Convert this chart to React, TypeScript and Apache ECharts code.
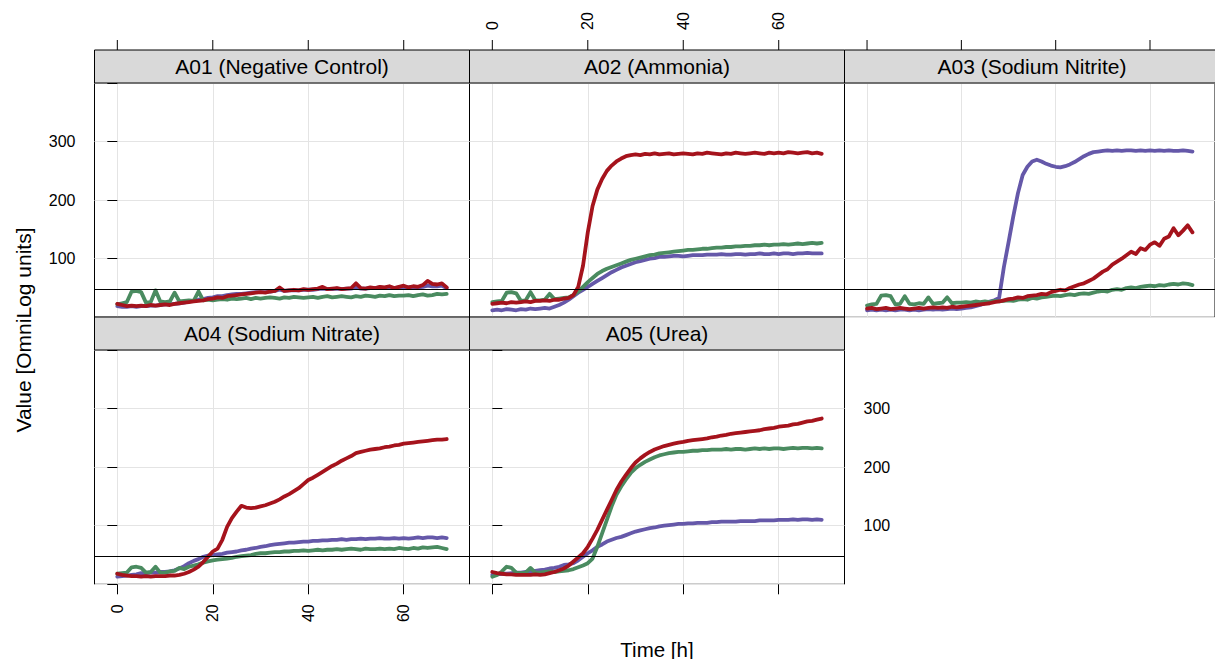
import React, { useEffect, useRef } from "react";
import * as echarts from "echarts";

// ---------- data ----------
const HOURS = [
  0, 1, 2, 3, 4, 5, 6, 7, 8, 9, 10, 11, 12, 13, 14, 15, 16, 17, 18, 19,
  20, 21, 22, 23, 24, 25, 26, 27, 28, 29, 30, 31, 32, 33, 34, 35, 36, 37, 38, 39,
  40, 41, 42, 43, 44, 45, 46, 47, 48, 49, 50, 51, 52, 53, 54, 55, 56, 57, 58, 59,
  60, 61, 62, 63, 64, 65, 66, 67, 68, 69,
];
const X_TICKS = [0, 20, 40, 60];
const Y_LABELS = [100, 200, 300];
const THRESHOLD = 48;
const PANEL_TITLES = [
  "A01 (Negative Control)",
  "A02 (Ammonia)",
  "A03 (Sodium Nitrite)",
  "A04 (Sodium Nitrate)",
  "A05 (Urea)",
];
const SERIES_COLORS = ["#6558A9", "#4A8B60", "#A5131C"]; // purple, green, red

// A01 (Negative Control)
const A01_PURPLE = [
  19, 18, 18, 19, 18, 19, 19, 20, 20, 21,
  22, 22, 23, 24, 25, 27, 28, 30, 31, 33,
  34, 36, 36, 38, 39, 40, 40, 41, 42, 43,
  43, 43, 44, 45, 47, 45, 46, 46, 46, 47,
  47, 47, 48, 49, 48, 48, 49, 48, 49, 49,
  51, 49, 49, 50, 50, 51, 50, 51, 50, 51,
  52, 51, 52, 51, 52, 54, 53, 53, 54, 50,
];
const A01_GREEN = [
  22, 24, 26, 44, 45, 43, 25, 26, 46, 27,
  26, 27, 42, 27, 28, 29, 28, 44, 29, 30,
  29, 30, 31, 30, 32, 31, 32, 33, 31, 33,
  32, 33, 34, 33, 32, 34, 33, 35, 34, 33,
  34, 35, 33, 35, 36, 34, 35, 36, 35, 34,
  36, 35, 37, 36, 35, 37, 36, 38, 36, 37,
  37, 38, 36, 38, 39, 37, 38, 40, 39, 40,
];
const A01_RED = [
  23, 21, 19, 20, 19, 20, 19, 21, 20, 21,
  22, 21, 23, 24, 25, 26, 27, 28, 29, 31,
  32, 34, 33, 36, 37, 38, 39, 40, 41, 42,
  43, 42, 44, 45, 51, 45, 46, 47, 46, 48,
  47, 48, 49, 52, 48, 49, 50, 48, 49, 50,
  58, 50, 49, 51, 50, 52, 51, 53, 50, 52,
  54, 51, 53, 52, 55, 62, 57, 56, 58, 51,
];

// A02 (Ammonia)
const A02_PURPLE = [
  12, 13, 12, 14, 13, 12, 14, 13, 15, 14,
  15, 16, 15, 18, 21, 25, 30, 36, 42, 47,
  52, 57, 62, 67, 72, 77, 81, 85, 88, 91,
  94, 96, 98, 100, 101, 103, 103, 104, 105, 105,
  104, 105, 106, 106, 106, 107, 107, 107, 108, 107,
  107, 108, 108, 107, 108, 108, 109, 108, 108, 109,
  108, 109, 109, 108, 109, 109, 110, 109, 109, 109,
];
const A02_GREEN = [
  26, 27, 28, 42, 43, 41, 28, 29, 43, 29,
  29, 30, 40, 31, 32, 33, 34, 38, 44, 52,
  60, 67, 74, 79, 83, 86, 89, 92, 95, 98,
  100, 102, 104, 106, 107, 109, 110, 111, 112, 113,
  114, 115, 115, 116, 117, 117, 118, 119, 119, 120,
  120, 121, 121, 122, 122, 123, 123, 124, 123, 124,
  124, 125, 124, 125, 126, 125, 126, 127, 126, 127,
];
const A02_RED = [
  23, 24, 25, 24, 26, 25, 26, 27, 26, 28,
  28, 29, 28, 30, 30, 32, 33, 38, 52, 88,
  145, 190, 218, 236, 250, 259, 266, 271, 275, 277,
  278, 277, 279, 278, 280, 278, 279, 280, 278, 279,
  280, 279, 278, 280, 279, 281, 280, 279, 278, 280,
  279, 281, 280, 279, 280, 281, 280, 279, 281, 280,
  281, 280, 282, 281, 280, 281, 282, 280, 281, 279,
];

// A03 (Sodium Nitrite)
const A03_PURPLE = [
  12, 13, 12, 13, 12, 13, 12, 13, 13, 12,
  13, 12, 13, 14, 13, 14, 13, 14, 15, 14,
  15, 16, 17, 19, 21, 24, 27, 29, 33, 85,
  128, 172, 212, 243, 257, 266, 269, 266, 262, 259,
  257, 256, 258, 261, 265, 270, 275, 279, 282, 283,
  284, 285, 284, 285, 284, 285, 285, 284, 285, 284,
  285, 284, 285, 284, 285, 284, 284, 285, 284, 283,
];
const A03_GREEN = [
  20, 22, 23, 37, 38, 36, 22, 23, 36, 23,
  22, 24, 23, 34, 23, 24, 25, 34, 24, 25,
  25, 26, 25, 27, 26, 27, 26, 28, 27, 28,
  29, 28, 30, 31, 30, 33, 32, 34, 35, 36,
  37, 36, 38, 39, 38, 40, 41, 40, 42, 44,
  45, 44, 47, 48, 47, 50, 51, 50, 52, 53,
  54, 53, 55, 54, 56, 57, 56, 58, 57, 55,
];
const A03_RED = [
  15, 16, 14, 15, 16, 14, 15, 16, 15, 14,
  15, 16, 15, 16, 17, 16, 17, 16, 18, 17,
  18, 19, 20, 21, 22, 23, 24, 26, 27, 29,
  31, 32, 34, 33, 36, 37, 38, 40, 39, 43,
  45, 47, 46, 50, 53, 56, 58, 62, 66, 72,
  78, 82, 90, 95, 100, 106, 112, 108, 118, 115,
  124, 128, 122, 134, 138, 152, 140, 148, 157, 145,
];

// A04 (Sodium Nitrate)
const A04_PURPLE = [
  13, 14, 15, 16, 17, 19, 19, 20, 20, 21,
  21, 22, 24, 27, 31, 36, 40, 43, 47, 49,
  50, 51, 52, 54, 55, 56, 58, 59, 61, 62,
  64, 65, 67, 68, 69, 70, 71, 71, 72, 73,
  73, 74, 74, 75, 75, 76, 76, 77, 76, 77,
  77, 78, 77, 78, 78, 79, 78, 78, 79, 78,
  79, 78, 79, 80, 79, 80, 80, 79, 80, 79,
];
const A04_GREEN = [
  18, 19, 20, 29, 30, 28, 20, 21, 30, 20,
  20, 22, 23, 28, 26, 30, 32, 34, 37, 39,
  41, 42, 43, 44, 45, 47, 48, 49, 50, 52,
  53, 53, 54, 55, 55, 56, 56, 57, 57, 58,
  57, 58, 59, 58, 59, 59, 60, 59, 60, 61,
  60, 59, 61, 60, 60, 61, 60, 61, 60, 62,
  61, 60, 62, 61, 63, 62, 63, 64, 62, 60,
];
const A04_RED = [
  18, 16, 15, 14, 14, 13, 14, 13, 14, 14,
  14, 15, 15, 16, 18, 21, 25, 30, 38, 47,
  56, 61, 76, 98, 113, 124, 134, 131, 130, 131,
  133, 135, 138, 141, 145, 150, 154, 159, 164, 171,
  178, 182, 187, 192, 197, 202, 206, 211, 215, 219,
  224, 226, 228, 230, 231, 232, 234, 235, 237, 238,
  240, 241, 242, 243, 244, 245, 246, 247, 247, 248,
];

// A05 (Urea)
const A05_PURPLE = [
  16, 17, 18, 18, 19, 20, 20, 21, 22, 23,
  24, 25, 27, 28, 30, 33, 34, 36, 41, 47,
  53, 58, 64, 68, 73, 76, 79, 81, 84, 87,
  90, 92, 94, 96, 97, 99, 100, 101, 102, 103,
  103, 104, 104, 105, 105, 105, 106, 106, 107, 107,
  107, 107, 108, 108, 108, 108, 109, 109, 109, 109,
  110, 110, 110, 111, 110, 111, 111, 110, 111, 110,
];
const A05_GREEN = [
  13, 16, 22, 30, 28, 20, 19, 20, 28, 20,
  20, 21, 22, 21, 22, 23, 24, 26, 29, 32,
  36, 44, 64, 87, 110, 133, 153, 167, 179, 190,
  198, 204, 209, 213, 217, 220, 222, 224, 225, 226,
  226, 227, 228, 228, 229, 229, 230, 230, 230, 231,
  230, 231, 231, 230, 231, 232, 231, 232, 231, 232,
  232, 231, 232, 233, 232, 233, 233, 232, 233, 232,
];
const A05_RED = [
  21, 19, 18, 17, 17, 16, 16, 16, 16, 17,
  16, 17, 19, 21, 24, 27, 32, 39, 46, 53,
  64, 78, 93, 110, 127, 144, 161, 175, 187, 198,
  208, 215, 221, 226, 230, 233, 236, 238, 240, 242,
  243, 245, 246, 247, 248, 249, 251, 252, 254, 255,
  257, 258, 259, 260, 261, 262, 263, 265, 266, 267,
  269, 270, 271, 273, 274, 276, 278, 279, 281, 283,
];

const PANEL_DATA = [
  [A01_PURPLE, A01_GREEN, A01_RED],
  [A02_PURPLE, A02_GREEN, A02_RED],
  [A03_PURPLE, A03_GREEN, A03_RED],
  [A04_PURPLE, A04_GREEN, A04_RED],
  [A05_PURPLE, A05_GREEN, A05_RED],
];

// ---------- layout ----------
const FONT = "'Liberation Sans', Arial, Helvetica, sans-serif";
const COL_LEFT = [94.5, 469.5, 844.5];
const ROW_TOP = [83, 350];
const PANEL_W = 375;
const PANEL_H = 234.3;
const STRIP_H = 33;
const TICK_LEN = 10;
const X_MIN = -4.78;
const X_MAX = 73.78;
const PANEL_POS = [
  [0, 0],
  [0, 1],
  [0, 2],
  [1, 0],
  [1, 1],
];
const GRID_COLOR = "#e4e4e4";

function buildGraphics(): any[] {
  const graphics: any[] = [];
  PANEL_POS.forEach(([row, col], i) => {
    const left = COL_LEFT[col];
    const top = ROW_TOP[row];
    graphics.push({
      type: "rect",
      shape: { x: left, y: top - STRIP_H, width: PANEL_W, height: STRIP_H },
      style: { fill: "#d9d9d9", stroke: "#000", lineWidth: 1 },
      z: 1,
    });
    graphics.push({
      type: "text",
      x: left + PANEL_W / 2,
      y: top - STRIP_H / 2,
      style: {
        text: PANEL_TITLES[i],
        fontSize: 21,
        fontFamily: FONT,
        fill: "#000",
        align: "center",
        verticalAlign: "middle",
      },
      z: 2,
    });
  });
  graphics.push({
    type: "text",
    x: 23,
    y: 330,
    rotation: Math.PI / 2,
    style: {
      text: "Value [OmniLog units]",
      fontSize: 21,
      fontFamily: FONT,
      fill: "#000",
      align: "center",
      verticalAlign: "middle",
    },
  });
  graphics.push({
    type: "text",
    x: 657,
    y: 649,
    style: {
      text: "Time [h]",
      fontSize: 20.5,
      fontFamily: FONT,
      fill: "#000",
      align: "center",
      verticalAlign: "middle",
    },
  });
  return graphics;
}

function buildOption() {
  const grids: any[] = [];
  const xAxes: any[] = [];
  const yAxes: any[] = [];
  const series: any[] = [];

  PANEL_POS.forEach(([row, col], i) => {
    const left = COL_LEFT[col];
    const top = ROW_TOP[row];
    grids.push({
      left,
      top,
      width: PANEL_W,
      height: PANEL_H,
      show: true,
      borderColor: "#000",
      borderWidth: 1,
      backgroundColor: "transparent",
      containLabel: false,
    });

    const showXLabels = (row === 0 && col === 1) || (row === 1 && col === 0);
    xAxes.push({
      type: "value",
      gridIndex: i,
      min: X_MIN,
      max: X_MAX,
      position: row === 0 ? "top" : "bottom",
      offset: row === 0 ? STRIP_H : 0,
      axisLine: { show: false },
      axisTick: {
        show: row === 1,
        inside: false,
        length: TICK_LEN,
        customValues: X_TICKS,
        lineStyle: { color: "#000", width: 1 },
      },
      axisLabel: {
        show: showXLabels,
        customValues: X_TICKS,
        rotate: 90,
        margin: 20,
        fontSize: 16,
        color: "#000",
        fontFamily: FONT,
      },
      splitLine: { show: true, lineStyle: { color: GRID_COLOR, width: 1 } },
    });

    let yPos = "left";
    let showYTicks = false;
    let showYLabels = false;
    if (col === 0) {
      yPos = "left";
      showYTicks = true;
      showYLabels = row === 0;
    } else if (col === 1 && row === 1) {
      yPos = "right";
      showYTicks = true;
      showYLabels = true;
    } else if (col === 2) {
      yPos = "right";
    }
    yAxes.push({
      type: "value",
      gridIndex: i,
      min: 0,
      max: 400,
      position: yPos,
      axisLine: { show: false },
      axisTick: {
        show: showYTicks,
        inside: false,
        length: TICK_LEN,
        lineStyle: { color: "#000", width: 1 },
      },
      axisLabel: {
        show: showYLabels,
        margin: 19,
        fontSize: 16,
        color: "#000",
        fontFamily: FONT,
        formatter: (v: number) => (Y_LABELS.includes(v) ? String(v) : ""),
      },
      splitLine: { show: true, lineStyle: { color: GRID_COLOR, width: 1 } },
    });

    PANEL_DATA[i].forEach((vals, j) => {
      const s: any = {
        type: "line",
        xAxisIndex: i,
        yAxisIndex: i,
        data: HOURS.map((h, k) => [h, vals[k]]),
        showSymbol: false,
        symbol: "none",
        lineStyle: { color: SERIES_COLORS[j], width: 3.8, join: "round", cap: "round" },
        itemStyle: { color: SERIES_COLORS[j] },
        z: 2 + j,
        silent: true,
        animation: false,
      };
      if (j === 0) {
        s.markLine = {
          silent: true,
          symbol: "none",
          label: { show: false },
          animation: false,
          lineStyle: { color: "#000", width: 1.1, type: "solid" },
          data: [{ yAxis: THRESHOLD }],
        };
      }
      series.push(s);
    });
  });

  return {
    animation: false,
    backgroundColor: "#fff",
    textStyle: { fontFamily: FONT },
    grid: grids,
    xAxis: xAxes,
    yAxis: yAxes,
    series,
    graphic: { elements: buildGraphics() },
  };
}

export default function App() {
  const ref = useRef<HTMLDivElement>(null);
  useEffect(() => {
    if (!ref.current) return;
    const chart = echarts.init(ref.current, undefined, { renderer: "svg" });
    chart.setOption(buildOption() as any);
    // top-axis ticks (above the strips), positioned through each panel's x scale
    const tickEls: any[] = [];
    PANEL_POS.forEach(([row], i) => {
      if (row !== 0) return;
      const yBase = ROW_TOP[0] - STRIP_H;
      X_TICKS.forEach((v) => {
        const px = chart.convertToPixel({ xAxisIndex: i } as any, v) as number;
        if (typeof px !== "number" || !isFinite(px)) return;
        tickEls.push({
          type: "line",
          shape: { x1: px, y1: yBase - TICK_LEN, x2: px, y2: yBase },
          style: { stroke: "#000", lineWidth: 1 },
          z: 3,
        });
      });
    });
    chart.setOption({ graphic: { elements: [...buildGraphics(), ...tickEls] } } as any);
    return () => chart.dispose();
  }, []);
  return (
    <div
      ref={ref}
      style={{ position: "absolute", left: 0, top: 0, width: 1215, height: 659, background: "#fff" }}
    />
  );
}
